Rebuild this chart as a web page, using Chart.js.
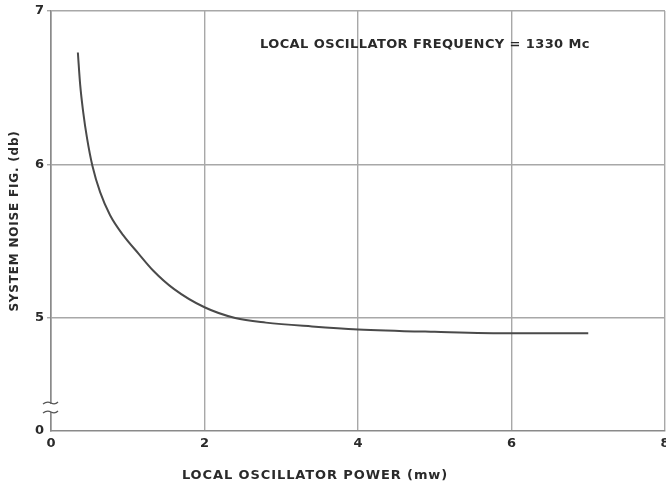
<!DOCTYPE html>
<html>
<head>
<meta charset="utf-8">
<script src="https://cdn.jsdelivr.net/npm/chart.js@4/dist/chart.umd.min.js"></script>
<style>
  html, body { margin: 0; padding: 0; background: #fff; }
  #wrap { width: 666px; height: 489px; }
</style>
</head>
<body>
<div id="wrap"><canvas id="noiseChart" width="666" height="489"></canvas></div>
<script>
// local oscillator power (mw) vs. system noise figure (db)
const powerMw = [0.35, 0.38, 0.42, 0.47, 0.54, 0.64, 0.77, 0.94, 1.14, 1.33, 1.6, 2.0, 2.4, 2.8, 3.4, 4.0, 5.0, 6.0, 7.0];
const noiseDb = [6.73, 6.52, 6.34, 6.17, 5.99, 5.82, 5.67, 5.54, 5.42, 5.31, 5.19, 5.07, 5.00, 4.97, 4.945, 4.926, 4.91, 4.90, 4.90];

const xTicks = [0, 2, 4, 6, 8];
const yTicks = [5, 6, 7];
// bottom of the broken axis, labelled 0
const yBreakBase = 4.264;
const yMax = 7;

const chartTitle = 'LOCAL OSCILLATOR FREQUENCY = 1330 Mc';
const xTitle = 'LOCAL OSCILLATOR POWER (mw)';
const yTitle = 'SYSTEM NOISE FIG. (db)';

const ink = '#2a2a2a';
const gridGrey = '#a8a8a8';
const labelFont = { family: 'DejaVu Sans', weight: 'bold', size: 13 };

const points = powerMw.map((p, i) => ({ x: p, y: noiseDb[i] }));

// axis break marks and the free-standing text
const annotations = {
  id: 'annotations',
  afterDraw(chart) {
    const ctx = chart.ctx;
    const xs = chart.scales.x;
    const ys = chart.scales.y;
    const ax = xs.getPixelForValue(0);

    ctx.save();
    // gap in the y axis
    ctx.fillStyle = '#fff';
    ctx.fillRect(ax - 2, 404, 4, 8);
    ctx.strokeStyle = '#555';
    ctx.lineWidth = 1.3;
    [403, 412].forEach(y => {
      ctx.beginPath();
      ctx.moveTo(ax - 8, y + 1);
      ctx.quadraticCurveTo(ax - 4, y - 2, ax, y);
      ctx.quadraticCurveTo(ax + 4, y + 2, ax + 7, y - 1);
      ctx.stroke();
    });

    ctx.fillStyle = ink;
    ctx.font = 'bold 13px "DejaVu Sans"';
    ctx.textBaseline = 'middle';
    ctx.textAlign = 'left';
    ctx.letterSpacing = '0.4px';
    ctx.fillText(chartTitle, 260, 45);

    ctx.textAlign = 'center';
    ctx.letterSpacing = '0.9px';
    ctx.fillText(xTitle, 315, 476);

    ctx.font = 'bold 12px "DejaVu Sans"';
    ctx.letterSpacing = '0.8px';
    ctx.translate(15, (ys.top + ys.bottom) / 2);
    ctx.rotate(-Math.PI / 2);
    ctx.fillText(yTitle, 0, 0);
    ctx.restore();
  }
};

new Chart(document.getElementById('noiseChart'), {
  type: 'line',
  data: {
    datasets: [{
      data: points,
      borderColor: '#4a4a4a',
      borderWidth: 2,
      pointRadius: 0,
      fill: false,
      cubicInterpolationMode: 'monotone'
    }]
  },
  options: {
    responsive: false,
    animation: false,
    layout: { padding: { top: 11, right: 1, left: 0, bottom: 0 } },
    plugins: {
      legend: { display: false },
      tooltip: { enabled: false }
    },
    scales: {
      x: {
        type: 'linear',
        min: 0,
        max: 8,
        afterBuildTicks: s => { s.ticks = xTicks.map(v => ({ value: v })); },
        afterFit: s => { s.height = 58; s.paddingLeft = 0; s.paddingRight = 0; },
        grid: { color: gridGrey, lineWidth: 1.4, drawTicks: false },
        border: { color: '#8a8a8a', width: 1.6 },
        ticks: { color: ink, font: labelFont, padding: 5 }
      },
      y: {
        type: 'linear',
        min: yBreakBase,
        max: yMax,
        afterBuildTicks: s => { s.ticks = [yBreakBase, ...yTicks].map(v => ({ value: v })); },
        afterFit: s => { s.width = 51; s.paddingTop = 0; s.paddingBottom = 0; },
        grid: {
          color: ctx => (ctx.tick && ctx.tick.value < 4.5) ? 'rgba(0,0,0,0)' : gridGrey,
          lineWidth: 1.4,
          tickLength: 4
        },
        border: { color: '#8a8a8a', width: 1.6 },
        ticks: {
          color: ink,
          font: labelFont,
          padding: 3,
          callback: v => (v < 4.5 ? '0' : String(v))
        }
      }
    }
  },
  plugins: [annotations]
});
</script>
</body>
</html>
